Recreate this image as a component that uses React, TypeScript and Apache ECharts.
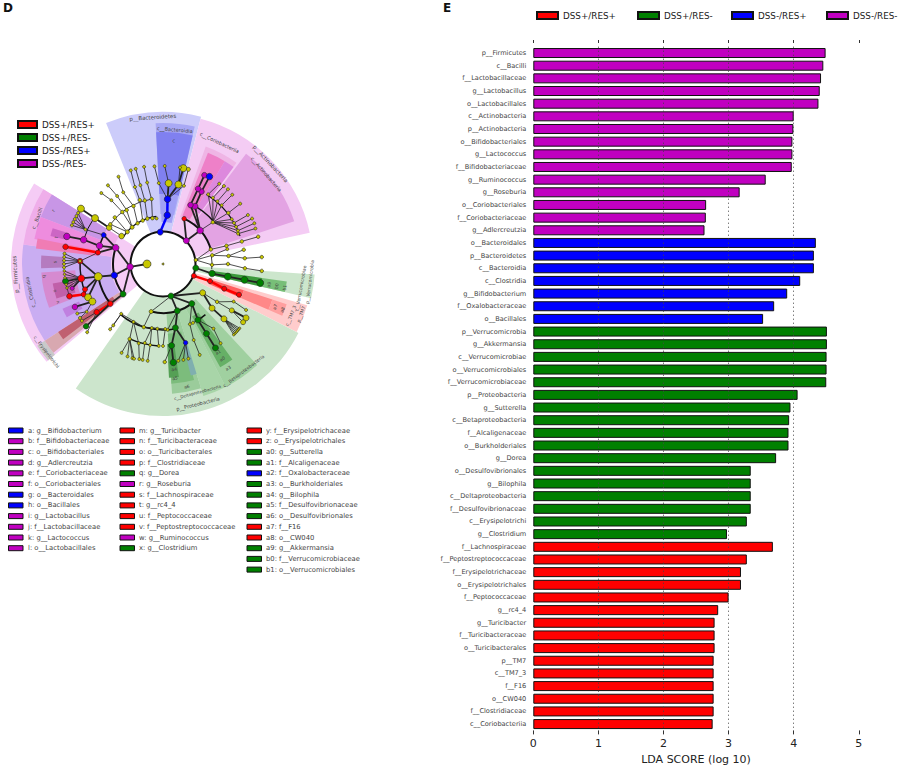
import React, { useEffect, useRef } from "react";
import * as echarts from "echarts";

// ---------- Panel E: LDA bars ----------
const purpleNames = ["p__Firmicutes","c__Bacilli","f__Lactobacillaceae","g__Lactobacillus","o__Lactobacillales","c__Actinobacteria","p__Actinobacteria","o__Bifidobacteriales","g__Lactococcus","f__Bifidobacteriaceae","g__Ruminococcus","g__Roseburia","o__Coriobacteriales","f__Coriobacteriaceae","g__Adlercreutzia"];
const purpleValues = [4.49,4.455,4.42,4.40,4.38,4.0,3.995,3.98,3.98,3.97,3.57,3.17,2.655,2.65,2.63];
const blueNames = ["o__Bacteroidales","p__Bacteroidetes","c__Bacteroidia","c__Clostridia","g__Bifidobacterium","f__Oxalobacteraceae","o__Bacillales"];
const blueValues = [4.34,4.31,4.31,4.10,3.90,3.70,3.53];
const greenNames = ["p__Verrucomicrobia","g__Akkermansia","c__Verrucomicrobiae","o__Verrucomicrobiales","f__Verrucomicrobiaceae","p__Proteobacteria","g__Sutterella","c__Betaproteobacteria","f__Alcaligenaceae","o__Burkholderiales","g__Dorea","o__Desulfovibrionales","g__Bilophila","c__Deltaproteobacteria","f__Desulfovibrionaceae","c__Erysipelotrichi","g__Clostridium"];
const greenValues = [4.51,4.51,4.505,4.505,4.50,4.06,3.95,3.93,3.92,3.92,3.73,3.34,3.34,3.34,3.34,3.28,2.975];
const redNames = ["f__Lachnospiraceae","f__Peptostreptococcaceae","f__Erysipelotrichaceae","o__Erysipelotrichales","f__Peptococcaceae","g__rc4_4","g__Turicibacter","f__Turicibacteraceae","o__Turicibacterales","p__TM7","c__TM7_3","f__F16","o__CW040","f__Clostridiaceae","c__Coriobacteriia"];
const redValues = [3.68,3.28,3.19,3.19,3.0,2.84,2.785,2.785,2.785,2.77,2.77,2.77,2.77,2.77,2.755];
const groupNames = ["DSS+/RES+","DSS+/RES-","DSS-/RES+","DSS-/RES-"];
const gridTicks = [1,2,3,4];

const C: Record<string,string> = { R:"#ff0000", G:"#008000", B:"#0000ff", M:"#c000c0", Y:"#c8c800" };

// ---------- Panel D: key below the cladogram ----------
const keyCol1 = [["a: g__Bifidobacterium","B"],["b: f__Bifidobacteriaceae","M"],["c: o__Bifidobacteriales","M"],["d: g__Adlercreutzia","M"],["e: f__Coriobacteriaceae","M"],["f: o__Coriobacteriales","M"],["g: o__Bacteroidales","B"],["h: o__Bacillales","B"],["i: g__Lactobacillus","M"],["j: f__Lactobacillaceae","M"],["k: g__Lactococcus","M"],["l: o__Lactobacillales","M"]];
const keyCol2 = [["m: g__Turicibacter","R"],["n: f__Turicibacteraceae","R"],["o: o__Turicibacterales","R"],["p: f__Clostridiaceae","R"],["q: g__Dorea","G"],["r: g__Roseburia","M"],["s: f__Lachnospiraceae","R"],["t: g__rc4_4","R"],["u: f__Peptococcaceae","R"],["v: f__Peptostreptococcaceae","R"],["w: g__Ruminococcus","M"],["x: g__Clostridium","G"]];
const keyCol3 = [["y: f__Erysipelotrichaceae","R"],["z: o__Erysipelotrichales","R"],["a0: g__Sutterella","G"],["a1: f__Alcaligenaceae","G"],["a2: f__Oxalobacteraceae","B"],["a3: o__Burkholderiales","G"],["a4: g__Bilophila","G"],["a5: f__Desulfovibrionaceae","G"],["a6: o__Desulfovibrionales","G"],["a7: f__F16","R"],["a8: o__CW040","R"],["a9: g__Akkermansia","G"],["b0: f__Verrucomicrobiaceae","G"],["b1: o__Verrucomicrobiales","G"]];

// ---------- Panel D: cladogram (clock degrees, radius) ----------
// startAngle, endAngle, r0, r, fill
const wedges: [number,number,number,number,string][] = [
  [230,302,32,152,"#f5ccf5"],[338,374.5,32,152,"#ccccfa"],[14.5,78,32,150,"#f4ccf4"],[94,103,32,152,"#cce6cc"],[106,117,32,150,"#ffcccc"],[117,215,32,152,"#cce5cc"],
  [237,278,52,141,"#c9adf2"],[278,302,52,141,"#efaeea"],[291,302,66,131,"#c896e6"],[281,291,66,131,"#ee8cde"],[277,281.5,66,128,"#f07cb4"],
  [268,274,100,122,"#b57bbf"],[249,266,88,122,"#d68ad0"],[252,260,92,112,"#c060a8"],[241,246,92,110,"#c080e0"],[284,288,100,116,"#cc66c4"],
  [230,237,141,150,"#c9c9c9"],[231,237,52,141,"#d8a8b0"],[233,237,60,125,"#c06070"],
  [357,373,50,141,"#a8a8f5"],[357,373,70,132,"#8080f0"],[358,372,42,70,"#a0a0f5"],
  [20,36,50,125,"#efb5e5"],[37,72,50,138,"#e3a3e3"],[22,31,52,120,"#ee80c8"],[31,36,62,120,"#dd88dd"],
  [163,176,48,130,"#9bcc9b"],[165,176,70,120,"#7cbc7c"],[172,177,80,114,"#55a055"],[162,166,85,115,"#7fafaf"],
  [153,163,48,138,"#a8d5a8"],[137,153,48,138,"#a0d0a0"],[144,151,60,118,"#66b066"],
  [98,103,50,100,"#3d9a3d"],[98,103,100,125,"#78bf78"],[108,113.5,50,85,"#ff6060"],[108,113.5,85,115,"#ff8888"],[108,113.5,115,130,"#ff9f9f"],
];
// radius, startAngle, endAngle, width
const arcs: [number,number,number,number][] = [
  [32.5,0,360,2],[50,233,289,2],[50,25,75,2],[66,233,259,2],[66,280,296,1.5],[83,249,272,1.5],[83,287,304,1],
  [49,144,194,2],[49,80,96,0.8],[66,169,220,1.5],[82,183,204,1.5],[48,303,352,1.2],[66,305,351,0.8],[82,32,70,1.2],[66,25,50,1.5],[66,140,150,1.5],[99,251,262,0.6],
];
// id, parent, radius, angle, size, colour
const cladeNodes: [string,string,number,number,number,string][] = [
  ["root","",0,0,2,"Y"],
  ["firm","",33,265,6.5,"M"],["b0","firm",16,270,8,"Y"],["cla","firm",50,257,6.5,"B"],["bac","firm",50,289,6.5,"M"],["ery","firm",50,233,6,"G"],
  ["y1","cla",66,259,8,"Y"],["r1","y1",83,260,7,"R"],["g1","r1",99,260,6,"G"],["rf","y1",83,272,5.5,"R"],["rf2","y1",82,252,5,"R"],["rf3","rf2",85,249,5,"R"],["rf4","rf3",99,251,5.5,"R"],
  ["y2","y1",82,246,7,"Y"],["y3","y2",80,242,7,"Y"],["mf","y3",98,244,5.5,"M"],["mw","r1",94,255,4,"M"],
  ["r2","ery",66,233,5.5,"R"],["r3","r2",82,234,5.5,"R"],["gx","r2",99,231,5.5,"G"],
  ["o1","bac",66,286,6.5,"M"],["b2","bac",66,296,5,"B"],["r4","bac",66,280,5,"R"],["m2","o1",83,287,6.5,"M"],["r5","r4",99,280,5.5,"R"],["m3","m2",100,286,6.5,"M"],
  ["yb1","r4",83,272,3,"Y"],["yb2","rf",99,268,3,"Y"],["yb3","rf",99,270,3,"Y"],["yb4","rf",99,272,3,"Y"],["yb5","rf",99,274,3,"Y"],["yb6","rf",99,276,3,"Y"],
  ["fa1","r1",99,256,2.5,"Y"],["fa2","r1",99,258,2.5,"Y"],["fa3","r1",99,262,2.5,"Y"],["fa4","r1",99,264,2.5,"Y"],["fa5","r1",99,266,2.5,"Y"],
  ["y4","",50,304,5.5,"Y"],["y5","y4",65,304,5.5,"Y"],["y6","y5",82,304,7,"Y"],["y7","y6",99,304,7,"Y"],
  ["yl1","b2",85,294,3,"Y"],["yl2","yl1",99,293,3,"Y"],["yl3","yl1",99,295,3,"Y"],["yl4","yl1",99,297,3,"Y"],["yl5","yl1",99,299,3,"Y"],["yl6","yl1",99,301,3,"Y"],
  ["ly1","y3",90,238,3,"Y"],["ly2","ly1",99,237,3,"Y"],["ly3","ly1",99,240,3,"Y"],["ly4","r3",99,235,3,"Y"],["ly5","r3",102,228,3,"Y"],
  // upper-left yellow clades
  ["u1","",48,312,4,"Y"],["u2","",48,320,4,"Y"],["u3","",48,328,3.5,"Y"],["u4","",48,335,3.5,"Y"],["u5","",48,341,3.5,"Y"],["u6","",47,347,3.5,"Y"],["u7","",46,352,3,"Y"],
  ["v1","u1",66,307,3.5,"Y"],["v2","u1",67,314,3.5,"Y"],["v3","u2",66,322,3.5,"Y"],["v4","u2",65,326,3.5,"Y"],["v5","u3",65,333,3.5,"Y"],["v6","u4",68,340,3.5,"Y"],["v7","u5",66,344,3.5,"Y"],["v8","u6",66,350,3.5,"Y"],
  ["w1","v5",82,331,3,"Y"],["w2","v6",82,340,3,"Y"],["w3","v7",82,344,3,"Y"],["w4","v8",83,349,3,"Y"],["w5","v3",82,321,3,"Y"],["w6","v4",82,326,3,"Y"],
  ["t1","w2",99,341,3,"Y"],["t2","w3",99,344,3,"Y"],["t3","w4",99,349,3,"Y"],["t4","w1",98,333,3,"Y"],["t5","w5",94,319,3,"Y"],["t6","w6",96,325,3,"Y"],
  // Bacteroidetes
  ["bt","",32,355,6,"B"],["bt1","bt",49,5,6.5,"B"],["bt2","bt1",65,4,6.5,"B"],["bc1","bt2",81,4,7,"Y"],["bc2","bt2",81,11,7,"Y"],["bc3","bt2",81,357,3,"Y"],["bc4","bt2",81,15,3,"Y"],
  ["bd1","bc2",98,12,7,"Y"],["bd2","bc2",98,10,3,"Y"],["bd3","bc1",98,1,3,"Y"],["bd4","bc3",98,355,3,"Y"],["bd5","bc4",98,15,4,"Y"],
  // Actinobacteria
  ["ac","",33,45,6,"M"],["ac1","ac",50,48,6.5,"M"],["rc","ac",50,25,4.5,"R"],["ac2","ac1",66,29,6,"M"],["ac3","ac1",65,25,5.5,"M"],["am1","ac2",82,28,5.5,"M"],["am2","ac3",83,25,5.5,"M"],["am3","am2",98,25,5.5,"M"],["ab","am1",99,28,6.5,"B"],
  ["ao","ac1",65,50,3.5,"Y"],["ar1","ao",83,33,3,"Y"],["ar2","ao",83,37,3,"Y"],["ar3","ao",83,41,3,"Y"],["ar4","ao",83,45,3,"Y"],["ar5","ao",83,52,3.5,"Y"],["ar6","ao",82,57,3,"Y"],["ar7","ao",82,60,3,"Y"],["ar8","ao",82,63,3,"Y"],["ar9","ao",82,66,3,"Y"],["ar10","ao",81,68,3,"Y"],
  ["as1","ar1",98,35,3,"Y"],["as2","ar2",99,38,3,"Y"],["as3","ar3",99,41,3,"Y"],["as4","ar4",98,45,3,"Y"],["as5","ar5",98,52,3,"Y"],["as6","ar7",98,60,3,"Y"],["as7","ar8",100,63,3,"Y"],["as8","ar9",100,66,3,"Y"],["as9","ar10",99,69,3,"Y"],
  // yellow clades on the right
  ["ry1","",33,83,3.5,"Y"],["ry2","ry1",50,73,3.5,"Y"],["ry3","ry2",66,74,3.5,"Y"],["ry4","ry3",82,74,3.5,"Y"],["ry5","ry4",99,74,3.5,"Y"],
  ["ry6","ry1",50,80,3.5,"Y"],["ry7","ry6",66,83,3.5,"Y"],["ry8","ry7",82,80,3.5,"Y"],["ry9","ry7",82,86,3.5,"Y"],["ry10","ry9",99,86,3.5,"Y"],["ry11","ry6",66,77,3,"Y"],
  ["ry12","ry1",49,91,3.5,"Y"],["ry13","ry12",65,90,3.5,"Y"],["ry14","ry13",82,93,3.5,"Y"],["ry15","ry14",99,94,3.5,"Y"],
  // Verrucomicrobia, TM7
  ["ve","",33,97,6,"G"],["ve1","ve",50,101,6.5,"G"],["ve2","ve1",66,101,7,"G"],["ve3","ve2",83,101,7,"G"],["ve4","ve3",99,101,7,"G"],
  ["tm","",33,111,5,"R"],["tm1","tm",50,110,5,"R"],["tm2","tm1",66,112,5,"R"],["tm3","tm2",82,112,5,"R"],
  // Proteobacteria
  ["pr","",33,166,6,"G"],["pr1","pr",49,163,6,"G"],["pr2","pr",49,144,6,"G"],["py0","pr",49,126,6,"Y"],["py1","pr",49,194,4,"Y"],
  ["d1","pr2",66,148,6,"G"],["d2","d1",82,148,6,"G"],["d3","d2",99,148,6,"G"],["de1","pr1",65,169,6,"G"],["de2","de1",82,174,6,"G"],["de3","de2",99,174,6.5,"G"],["de4","de1",82,164,4.5,"B"],
  ["dy1","de4",98,171,3,"Y"],["dy2","de4",98,168,3,"Y"],["dy3","de4",98,165,3,"Y"],["dy4","de2",98,179,3.5,"Y"],["dy5","pr1",66,176,3,"Y"],["dy6","pr2",66,156,3,"Y"],["dy7","dy6",82,158,3,"Y"],["dy8","dy7",98,158,3,"Y"],["dy9","d1",66,153,3,"Y"],["dy10","d1",82,142,3,"Y"],["dy11","dy10",98,144,3,"Y"],
  ["py2","py0",66,125,3.5,"Y"],["py3","py0",66,132,6,"Y"],["py4","py3",82,132,6,"Y"],["py5","py2",83,124,5,"Y"],["py6","py5",99,123,6,"Y"],["py7","py5",99,126,5,"Y"],["py8","py2",80,118,3,"Y"],["py9","py8",95,119,3,"Y"],
  ["fn1","py4",100,130,2.5,"Y"],["fn2","py4",100,131,2.5,"Y"],["fn3","py4",100,132,2.5,"Y"],["fn4","py4",100,133,2.5,"Y"],["fn5","py4",100,134,2.5,"Y"],["fn6","py4",100,135,2.5,"Y"],
  ["ly0","py1",66,197,3.5,"Y"],["lz1","ly0",65,190,3,"Y"],["lz2","ly0",65,185,3,"Y"],["lz3","ly0",65,178,3,"Y"],["lz4","ly0",65,207,3,"Y"],["lz5","ly0",65,220,3,"Y"],
  ["lq1","lz5",79,219,3,"Y"],["lq2","lz5",84,219,3,"Y"],["lq3","lz4",82,204,3.5,"Y"],["lq4","lz4",83,197,3,"Y"],["lq5","lz1",81,193,3,"Y"],["lq6","lz1",82,189,3,"Y"],["lq7","lz2",82,183,3,"Y"],["lq8","lz3",82,180,3,"Y"],
  ["lt1","lq3",98,205,3,"Y"],["lt2","lq3",99,201,3,"Y"],["lt3","lq3",99,198,3,"Y"],["lt4","lq3",99,197,3,"Y"],["lt5","lq4",98,194,3,"Y"],["lt6","lq5",98,192,3,"Y"],["lt7","lq6",98,189,3,"Y"],
];
// text, radius, angle, fontSize
const cladeLabels: [string,number,number,number][] = [
  ["p__Bacteroidetes",147,356,5.5],["c__Bacteroidia",135,5,5],["c",124,5,5],["c__Coriobacteriia",134,25,5],["p__Actinobacteria",147,47,5.5],["c__Actinobacteria",137,49,5],
  ["p__Firmicutes",148,266,5.5],["c__Clostridia",136,258,5],["c__Bacilli",134,290,5],["c__Erysipelotrichi",146,233,4.5],
  ["p__Verrucomicrobia",148,97,4.5],["c__Verrucomicrobiae",140,100,4.5],["p__TM7",147,110,4.5],["c__TM7_3",138,112,4.5],
  ["p__Proteobacteria",144,166,5],["c__Betaproteobacteria",134,143,4.5],["c__Deltaproteobacteria",133,165,4.2],
  ["a9",108,101,4.5],["b0",116,101,4.5],["b1",124,101,4.5],["a7",120,111,4.5],["a8",128,111,4.5],["a1",104,148,4.5],["a0",112,148,4.5],["a3",123,148,4.5],
  ["a4",106,174,4.5],["a5",115,174,4.5],["a6",125,169,4.5],["q",120,264,4.5],["s",108,271,4.5],["r",122,296,4.5],["t",110,284,4.5],["u",112,256,4.5],["v",112,250,4.5],
];

const panelLetters = [["D",3,8],["E",443,8]];
const topLegendLefts = [536, 637, 731, 826];

const nodeById = new Map(cladeNodes.map((n) => [n[0], n]));
const cladeEdges = cladeNodes.filter((n) => n[1] && nodeById.has(n[1]));

function buildOption(): any {
  const categories = [...purpleNames, ...blueNames, ...greenNames, ...redNames];
  const total = categories.length;
  const place = (vals: number[], start: number) => {
    const d: (number | null)[] = new Array(total).fill(null);
    vals.forEach((v, i) => (d[start + i] = v));
    return d;
  };
  const groupData = [
    { name: groupNames[0], color: C.R, data: place(redValues, purpleNames.length + blueNames.length + greenNames.length) },
    { name: groupNames[1], color: C.G, data: place(greenValues, purpleNames.length + blueNames.length) },
    { name: groupNames[2], color: C.B, data: place(blueValues, purpleNames.length) },
    { name: groupNames[3], color: C.M, data: place(purpleValues, 0) },
  ];
  const legendText = { fontFamily: "DejaVu Sans", fontSize: 8.8, color: "#222" };

  const graphic: any[] = [];
  const addKey = (col: string[][], sx: number, tx: number) => {
    col.forEach((row, i) => {
      const y = 430.5 + i * 10.7;
      graphic.push({ type: "rect", shape: { x: sx, y: y - 2.5, width: 14.5, height: 5 }, style: { fill: C[row[1]], stroke: "#111", lineWidth: 1 } });
      graphic.push({ type: "text", x: tx, y, style: { text: row[0], fontFamily: "DejaVu Sans", fontSize: 6.8, fill: "#444", verticalAlign: "middle", align: "left" } });
    });
  };
  addKey(keyCol1, 8.5, 28);
  addKey(keyCol2, 120, 139);
  addKey(keyCol3, 247, 266);
  panelLetters.forEach((p) => graphic.push({ type: "text", x: p[1] as number, y: p[2] as number, style: { text: p[0], fontFamily: "DejaVu Sans", fontWeight: "bold", fontSize: 12, fill: "#111", verticalAlign: "middle" } }));

  const series: any[] = groupData.map((g, i) => ({
    name: g.name, type: "bar", xAxisIndex: 0, yAxisIndex: 0, data: g.data, barWidth: 10, barGap: "-100%",
    itemStyle: { color: g.color, borderColor: "#111", borderWidth: 1 }, z: 3,
    markLine: i === 0 ? { silent: true, symbol: "none", label: { show: false }, z: 6, lineStyle: { type: [1, 3], color: "#444", width: 1 }, data: gridTicks.map((v) => ({ xAxis: v })) } : undefined,
  }));
  series.push({
    type: "custom", coordinateSystem: "polar", polarIndex: 0, clip: false, z: 1, silent: true,
    data: wedges.map((w) => [w[3], w[0]]),
    renderItem: (p: any) => {
      const w = wedges[p.dataIndex];
      return { type: "sector", shape: { cx: p.coordSys.cx, cy: p.coordSys.cy, r0: w[2], r: w[3], startAngle: ((w[0] - 90) * Math.PI) / 180, endAngle: ((w[1] - 90) * Math.PI) / 180, clockwise: true }, style: { fill: w[4] } };
    },
  });
  series.push({
    type: "custom", coordinateSystem: "polar", polarIndex: 0, clip: false, z: 2, silent: true,
    data: arcs.map((a) => [a[0], a[1]]),
    renderItem: (p: any) => {
      const a = arcs[p.dataIndex];
      return { type: "arc", shape: { cx: p.coordSys.cx, cy: p.coordSys.cy, r: a[0], startAngle: ((a[1] - 90) * Math.PI) / 180, endAngle: ((a[2] - 90) * Math.PI) / 180, clockwise: true }, style: { fill: "none", stroke: "#111", lineWidth: a[3] } };
    },
  });
  series.push({
    type: "custom", coordinateSystem: "polar", polarIndex: 0, clip: false, z: 2, silent: true,
    data: cladeEdges.map((n) => [n[2], n[3]]),
    renderItem: (p: any, api: any) => {
      const n = cladeEdges[p.dataIndex];
      const par = nodeById.get(n[1])!;
      const a = api.coord([par[2], par[3]]);
      const b = api.coord([n[2], n[3]]);
      const same = par[5] === n[5] && (n[5] === "R" || n[5] === "B");
      const coloured = n[5] !== "Y" || n[4] >= 6;
      return { type: "line", shape: { x1: a[0], y1: a[1], x2: b[0], y2: b[1] }, style: { stroke: same ? C[n[5]] : "#222", lineWidth: same ? 2.5 : coloured ? 1.8 : 0.8 } };
    },
  });
  series.push({
    type: "scatter", coordinateSystem: "polar", polarIndex: 0, z: 5, silent: true,
    data: cladeNodes.map((n) => [n[2], n[3]]),
    symbolSize: (_v: any, p: any) => cladeNodes[p.dataIndex][4],
    itemStyle: { color: (p: any) => C[cladeNodes[p.dataIndex][5]], borderColor: "#222", borderWidth: 0.6, opacity: 1 },
  });
  series.push({
    type: "custom", coordinateSystem: "polar", polarIndex: 0, clip: false, z: 6, silent: true,
    data: cladeLabels.map((l) => [l[1], l[2]]),
    renderItem: (p: any, api: any) => {
      const l = cladeLabels[p.dataIndex];
      const c = api.coord([l[1], l[2]]);
      const deg = l[2] > 90 && l[2] < 250 ? 180 - l[2] : -l[2];
      return { type: "text", x: c[0], y: c[1], rotation: (deg * Math.PI) / 180, style: { text: l[0], fontFamily: "DejaVu Sans", fontSize: l[3], fill: "#444", align: "center", verticalAlign: "middle" } };
    },
  });

  return {
    animation: false,
    backgroundColor: "#fff",
    graphic,
    legend: [
      ...groupNames.map((name, i) => ({ data: [name], left: topLegendLefts[i], top: 11, padding: 0, icon: "rect", itemWidth: 21, itemHeight: 7, textStyle: legendText, selectedMode: false })),
      { data: groupNames, left: 17, top: 119.5, orient: "vertical", icon: "rect", itemWidth: 19, itemHeight: 7, itemGap: 3, padding: 0, textStyle: { ...legendText, lineHeight: 10 }, selectedMode: false },
    ],
    grid: { left: 533.3, top: 46.7, width: 325.5, height: 683.7, outerBoundsMode: "none" },
    polar: { center: [163, 264], radius: 155 },
    angleAxis: { type: "value", min: 0, max: 360, startAngle: 90, clockwise: true, show: false },
    radiusAxis: { type: "value", min: 0, max: 155, show: false },
    xAxis: [
      { type: "value", position: "bottom", min: 0, max: 5, interval: 1, axisLine: { show: false }, axisTick: { show: true, length: 4, lineStyle: { color: "#333" } }, splitLine: { show: false },
        axisLabel: { fontFamily: "DejaVu Sans", fontSize: 11, color: "#222", margin: 8 }, name: "LDA SCORE (log 10)", nameLocation: "middle", nameGap: 24, nameTextStyle: { fontFamily: "DejaVu Sans", fontSize: 11, color: "#222" } },
      { type: "value", position: "top", offset: 3.7, min: 0, max: 5, interval: 1, axisLine: { show: false }, axisTick: { show: true, length: 3, lineStyle: { color: "#333" } }, splitLine: { show: false }, axisLabel: { show: false } },
    ],
    yAxis: { type: "category", inverse: true, data: categories, axisLine: { show: false }, axisTick: { show: false }, splitLine: { show: false },
      axisLabel: { interval: 0, fontFamily: "DejaVu Sans", fontSize: 6.6, color: "#444", margin: 7 } },
    series,
  };
}

export default function App() {
  const ref = useRef<HTMLDivElement>(null);
  useEffect(() => {
    const chart = echarts.init(ref.current!, undefined, { renderer: "svg" });
    chart.setOption(buildOption());
    return () => chart.dispose();
  }, []);
  return <div ref={ref} style={{ position: "absolute", left: 0, top: 0, width: 899, height: 766 }} />;
}
